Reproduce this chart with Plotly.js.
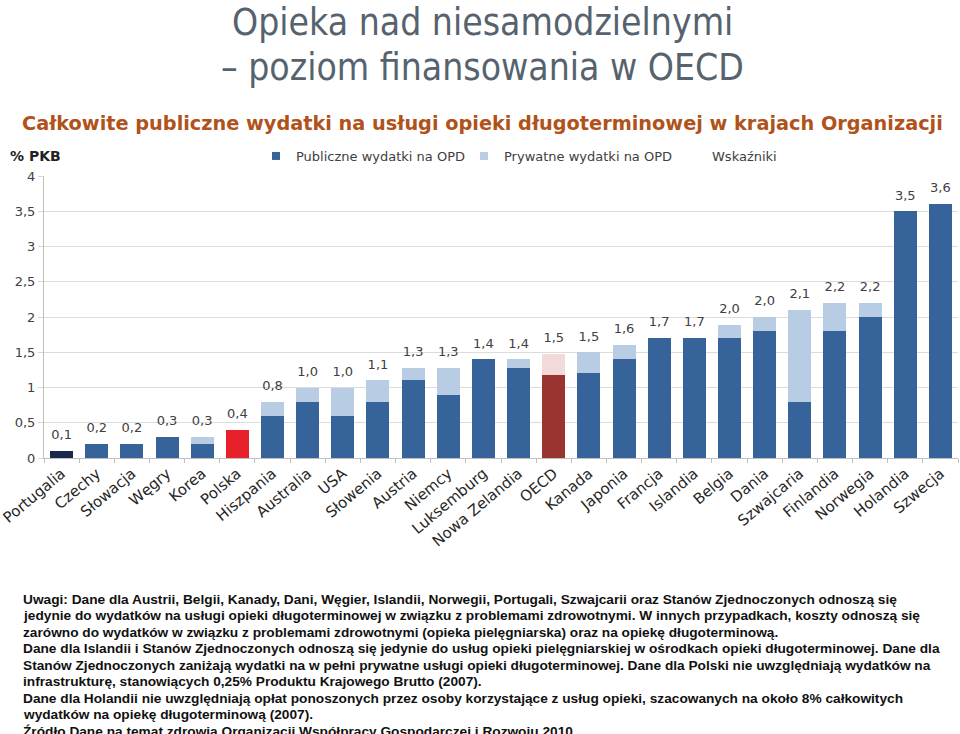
<!DOCTYPE html>
<html>
<head>
<meta charset="utf-8">
<script src="https://cdn.plot.ly/plotly-3.0.1.min.js"></script>
<style>html,body{margin:0;padding:0;background:#fff;}#chart{width:960px;height:734px;}</style>
</head>
<body>
<div id="chart"></div>
<script>
// ---- data ----
const countries = ["Portugalia","Czechy","Słowacja","Węgry","Korea","Polska","Hiszpania","Australia","USA","Słowenia","Austria","Niemcy","Luksemburg","Nowa Zelandia","OECD","Kanada","Japonia","Francja","Islandia","Belgia","Dania","Szwajcaria","Finlandia","Norwegia","Holandia","Szwecja"];
const publicSpend  = [0.1,0.2,0.2,0.3,0.2,0.4,0.6,0.8,0.6,0.8,1.1,0.9,1.4,1.28,1.18,1.2,1.4,1.7,1.7,1.7,1.8,0.8,1.8,2.0,3.5,3.6];
const privateSpend = [0,0,0,0,0.1,0,0.2,0.2,0.4,0.3,0.18,0.38,0,0.12,0.3,0.3,0.2,0,0,0.19,0.2,1.3,0.4,0.2,0,0];
const valueLabels  = ["0,1","0,2","0,2","0,3","0,3","0,4","0,8","1,0","1,0","1,1","1,3","1,3","1,4","1,4","1,5","1,5","1,6","1,7","1,7","2,0","2,0","2,1","2,2","2,2","3,5","3,6"];
const yTicks = [0,0.5,1,1.5,2,2.5,3,3.5,4];
const legendNames = ["Publiczne wydatki na OPD","Prywatne wydatki na OPD","Wskaźniki"];
const titleLines = ["Opieka nad niesamodzielnymi","– poziom finansowania w OECD"];
const subtitle = "Całkowite publiczne wydatki na usługi opieki długoterminowej w krajach Organizacji";
const yUnit = "% PKB";
const notes = [
 "Uwagi: Dane dla Austrii, Belgii, Kanady, Dani, Węgier, Islandii, Norwegii, Portugali, Szwajcarii oraz Stanów Zjednoczonych odnoszą się",
 "jedynie do wydatków na usługi opieki długoterminowej w związku z problemami zdrowotnymi. W innych przypadkach, koszty odnoszą się",
 "zarówno do wydatków w związku z problemami zdrowotnymi (opieka pielęgniarska) oraz na opiekę długoterminową.",
 "Dane dla Islandii i Stanów Zjednoczonych odnoszą się jedynie do usług opieki pielęgniarskiej w ośrodkach opieki długoterminowej. Dane dla",
 "Stanów Zjednoczonych zaniżają wydatki na w pełni prywatne usługi opieki długoterminowej. Dane dla Polski nie uwzględniają wydatków na",
 "infrastrukturę, stanowiących 0,25% Produktu Krajowego Brutto (2007).",
 "Dane dla Holandii nie uwzględniają opłat ponoszonych przez osoby korzystające z usług opieki, szacowanych na około 8% całkowitych",
 "wydatków na opiekę długoterminową (2007).",
 "Źródło Dane na temat zdrowia Organizacji Współpracy Gospodarczej i Rozwoju 2010"
];

// ---- styling ----
const BLUE = "#36639a", LIGHT = "#b8cce4", NAVY = "#17284a", RED = "#e8202a", OECD_DARK = "#9a3431", OECD_LIGHT = "#f2dada";
const pubColors = countries.map(c => c === "Portugalia" ? NAVY : c === "Polska" ? RED : c === "OECD" ? OECD_DARK : BLUE);
const privColors = countries.map(c => c === "OECD" ? OECD_LIGHT : LIGHT);
const totals = publicSpend.map((v, i) => v + privateSpend[i]);

const W = 960, H = 734, M = {l: 44, r: 2, t: 176, b: 276};
const px = x => (x - M.l) / (W - M.l - M.r);
const py = y => (H - M.b - y) / (H - M.t - M.b);

const traces = [
  {type: "bar", x: countries, y: publicSpend, marker: {color: pubColors}, showlegend: false, hoverinfo: "x+y"},
  {type: "bar", x: countries, y: privateSpend, marker: {color: privColors}, showlegend: false, hoverinfo: "x+y"},
  {type: "scatter", mode: "markers+text", x: countries, y: totals, text: valueLabels, textposition: "top center",
   marker: {size: 12, color: "rgba(0,0,0,0)"}, cliponaxis: false,
   textfont: {family: "DejaVu Sans", size: 13, color: "#404040"}, showlegend: false, hoverinfo: "skip"},
  {type: "scatter", mode: "markers", x: [null], y: [null], name: legendNames[0], marker: {symbol: "square", size: 8, color: BLUE}},
  {type: "scatter", mode: "markers", x: [null], y: [null], name: legendNames[1], marker: {symbol: "square", size: 8, color: LIGHT}},
  {type: "scatter", mode: "markers", x: [null], y: [null], name: legendNames[2], marker: {symbol: "square", size: 8, color: "rgba(0,0,0,0)"}}
];

const TITLE_FONT = "DejaVu Sans Condensed, Roboto, sans-serif";
const annotations = [];
annotations.push({text: titleLines[0], x: px(482), y: py(23), xref: "paper", yref: "paper", xanchor: "center", yanchor: "middle", showarrow: false,
  font: {family: TITLE_FONT, size: 37, color: "#56636e"}});
annotations.push({text: titleLines[1], x: px(482), y: py(68), xref: "paper", yref: "paper", xanchor: "center", yanchor: "middle", showarrow: false,
  font: {family: TITLE_FONT, size: 37, color: "#56636e"}});
annotations.push({text: "<b>" + subtitle + "</b>", x: px(482), y: py(123), xref: "paper", yref: "paper", xanchor: "center", yanchor: "middle", showarrow: false,
  font: {family: "DejaVu Sans", size: 19.3, color: "#b0521a"}});
annotations.push({text: "<b>" + yUnit + "</b>", x: px(8), y: py(156), xref: "paper", yref: "paper", xanchor: "left", yanchor: "middle", showarrow: false,
  font: {family: "DejaVu Sans", size: 14, color: "#222"}});
notes.forEach((line, i) => {
  annotations.push({text: "<b>" + line + "</b>", x: px(21), y: py(599 + i * 16.5), xref: "paper", yref: "paper", xanchor: "left", yanchor: "middle",
    showarrow: false, align: "left", font: {family: "Liberation Sans", size: 13.7, color: "#111"}});
});

const layout = {
  width: W, height: H,
  margin: M,
  paper_bgcolor: "#fff", plot_bgcolor: "#fff",
  barmode: "stack", bargap: 0.345,
  separators: ", ",
  showlegend: true,
  legend: {orientation: "h", traceorder: "normal", x: px(256), xanchor: "left", y: py(156), yanchor: "middle", entrywidth: 163,
    font: {family: "DejaVu Sans", size: 13, color: "#404040"}, bgcolor: "rgba(0,0,0,0)", itemclick: false},
  xaxis: {type: "category", range: [-0.5, countries.length - 0.5], tickangle: -40, tickfont: {family: "DejaVu Sans", size: 15, color: "#262626"},
    showline: true, linecolor: "#bfbfbf", ticks: "outside", tickson: "boundaries", ticklen: 4, tickcolor: "#bfbfbf",
    showgrid: false, fixedrange: true},
  yaxis: {range: [0, 4], tickvals: yTicks, tickfont: {family: "DejaVu Sans", size: 13, color: "#404040"},
    showline: true, linecolor: "#bfbfbf", ticks: "outside", ticklen: 5, tickcolor: "#d9d9d9",
    showgrid: true, gridcolor: "#dcdcdc", zeroline: false, fixedrange: true},
  annotations: annotations
};

Plotly.newPlot("chart", traces, layout, {displayModeBar: false, staticPlot: true});
</script>
</body>
</html>
